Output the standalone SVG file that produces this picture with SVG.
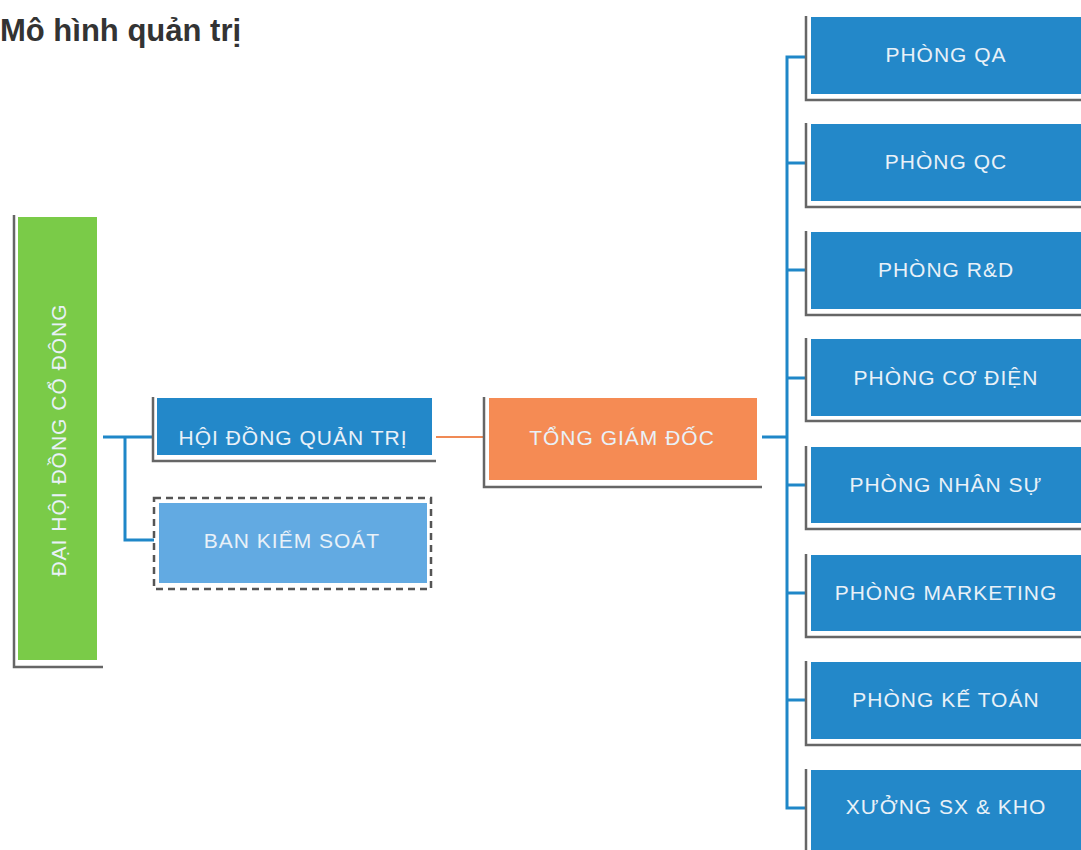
<svg xmlns="http://www.w3.org/2000/svg" width="1081" height="850" viewBox="0 0 1081 850">
<style>
.card{fill:#ffffff}
.edge{fill:none;stroke:#666666;stroke-width:2.5}
.blue{fill:#2388c9}
.lbl{font-family:"Liberation Sans",Arial,sans-serif;font-size:21px;fill:#e9f1f8;text-anchor:middle;dominant-baseline:central;letter-spacing:1px}
.con{fill:none;stroke:#1f87c8;stroke-width:3}
</style>
<rect width="1081" height="850" fill="#ffffff"/>
<text x="0" y="41" font-family="Liberation Sans,Arial,sans-serif" font-weight="bold" font-size="31" fill="#333333">Mô hình quản trị</text>

<g id="connectors">
<path class="con" d="M100 437 H155 M125 437 V540 H156"/>
<path d="M432 437 H486" fill="none" stroke="#f08a55" stroke-width="2"/>
<path class="con" d="M757 437 H787"/>
<path class="con" d="M808 57 H787 V808 H808"/>
<path class="con" d="M787 163 H808 M787 270 H808 M787 378 H808 M787 485 H808 M787 593 H808 M787 700 H808"/>
</g>

<g id="dai-hoi-dong-co-dong">
<rect class="card" x="13" y="214" width="90" height="453"/>
<path class="edge" d="M14 215 V667 H103"/>
<rect x="18" y="217" width="79" height="443" fill="#7acb48"/>
<text class="lbl" transform="translate(58 440) rotate(-90)">ĐẠI HỘI ĐỒNG CỔ ĐÔNG</text>
</g>

<g id="hoi-dong-quan-tri">
<rect class="card" x="152" y="396" width="284" height="66"/>
<path class="edge" d="M153 397 V461 H436"/>
<rect class="blue" x="157" y="398" width="275" height="57"/>
<text class="lbl" x="293" y="437">HỘI ĐỒNG QUẢN TRỊ</text>
</g>

<g id="ban-kiem-soat">
<rect x="154" y="498" width="277" height="91" fill="#ffffff" stroke="#555555" stroke-width="2.5" stroke-dasharray="7 5"/>
<rect x="159" y="503" width="268" height="80" fill="#62aae2"/>
<text class="lbl" x="292" y="540">BAN KIỂM SOÁT</text>
</g>

<g id="tong-giam-doc">
<rect class="card" x="483" y="396" width="279" height="92"/>
<path class="edge" d="M484 397 V487 H762"/>
<rect x="489" y="398" width="268" height="82" fill="#f58b54"/>
<text class="lbl" x="622" y="437">TỔNG GIÁM ĐỐC</text>
</g>

<g id="phong-qa">
<rect class="card" x="805" y="15" width="276" height="86"/>
<path class="edge" d="M806 16 V100 H1081"/>
<rect class="blue" x="811" y="17" width="270" height="77"/>
<text class="lbl" x="946" y="54">PHÒNG QA</text>
</g>

<g id="phong-qc">
<rect class="card" x="805" y="122" width="276" height="86"/>
<path class="edge" d="M806 123 V207 H1081"/>
<rect class="blue" x="811" y="124" width="270" height="77"/>
<text class="lbl" x="946" y="161">PHÒNG QC</text>
</g>

<g id="phong-rd">
<rect class="card" x="805" y="230" width="276" height="86"/>
<path class="edge" d="M806 231 V315 H1081"/>
<rect class="blue" x="811" y="232" width="270" height="77"/>
<text class="lbl" x="946" y="269">PHÒNG R&amp;D</text>
</g>

<g id="phong-co-dien">
<rect class="card" x="805" y="337" width="276" height="85"/>
<path class="edge" d="M806 338 V421 H1081"/>
<rect class="blue" x="811" y="339" width="270" height="77"/>
<text class="lbl" x="946" y="377">PHÒNG CƠ ĐIỆN</text>
</g>

<g id="phong-nhan-su">
<rect class="card" x="805" y="445" width="276" height="85"/>
<path class="edge" d="M806 446 V529 H1081"/>
<rect class="blue" x="811" y="447" width="270" height="76"/>
<text class="lbl" x="946" y="484">PHÒNG NHÂN SỰ</text>
</g>

<g id="phong-marketing">
<rect class="card" x="805" y="553" width="276" height="85"/>
<path class="edge" d="M806 554 V637 H1081"/>
<rect class="blue" x="811" y="555" width="270" height="76"/>
<text class="lbl" x="946" y="592">PHÒNG MARKETING</text>
</g>

<g id="phong-ke-toan">
<rect class="card" x="805" y="660" width="276" height="86"/>
<path class="edge" d="M806 661 V745 H1081"/>
<rect class="blue" x="811" y="662" width="270" height="77"/>
<text class="lbl" x="946" y="699">PHÒNG KẾ TOÁN</text>
</g>

<g id="xuong-sx-kho">
<rect class="card" x="805" y="768" width="276" height="82"/>
<path class="edge" d="M806 769 V850"/>
<rect class="blue" x="811" y="770" width="270" height="80"/>
<text class="lbl" x="946" y="806">XƯỞNG SX &amp; KHO</text>
</g>
</svg>
